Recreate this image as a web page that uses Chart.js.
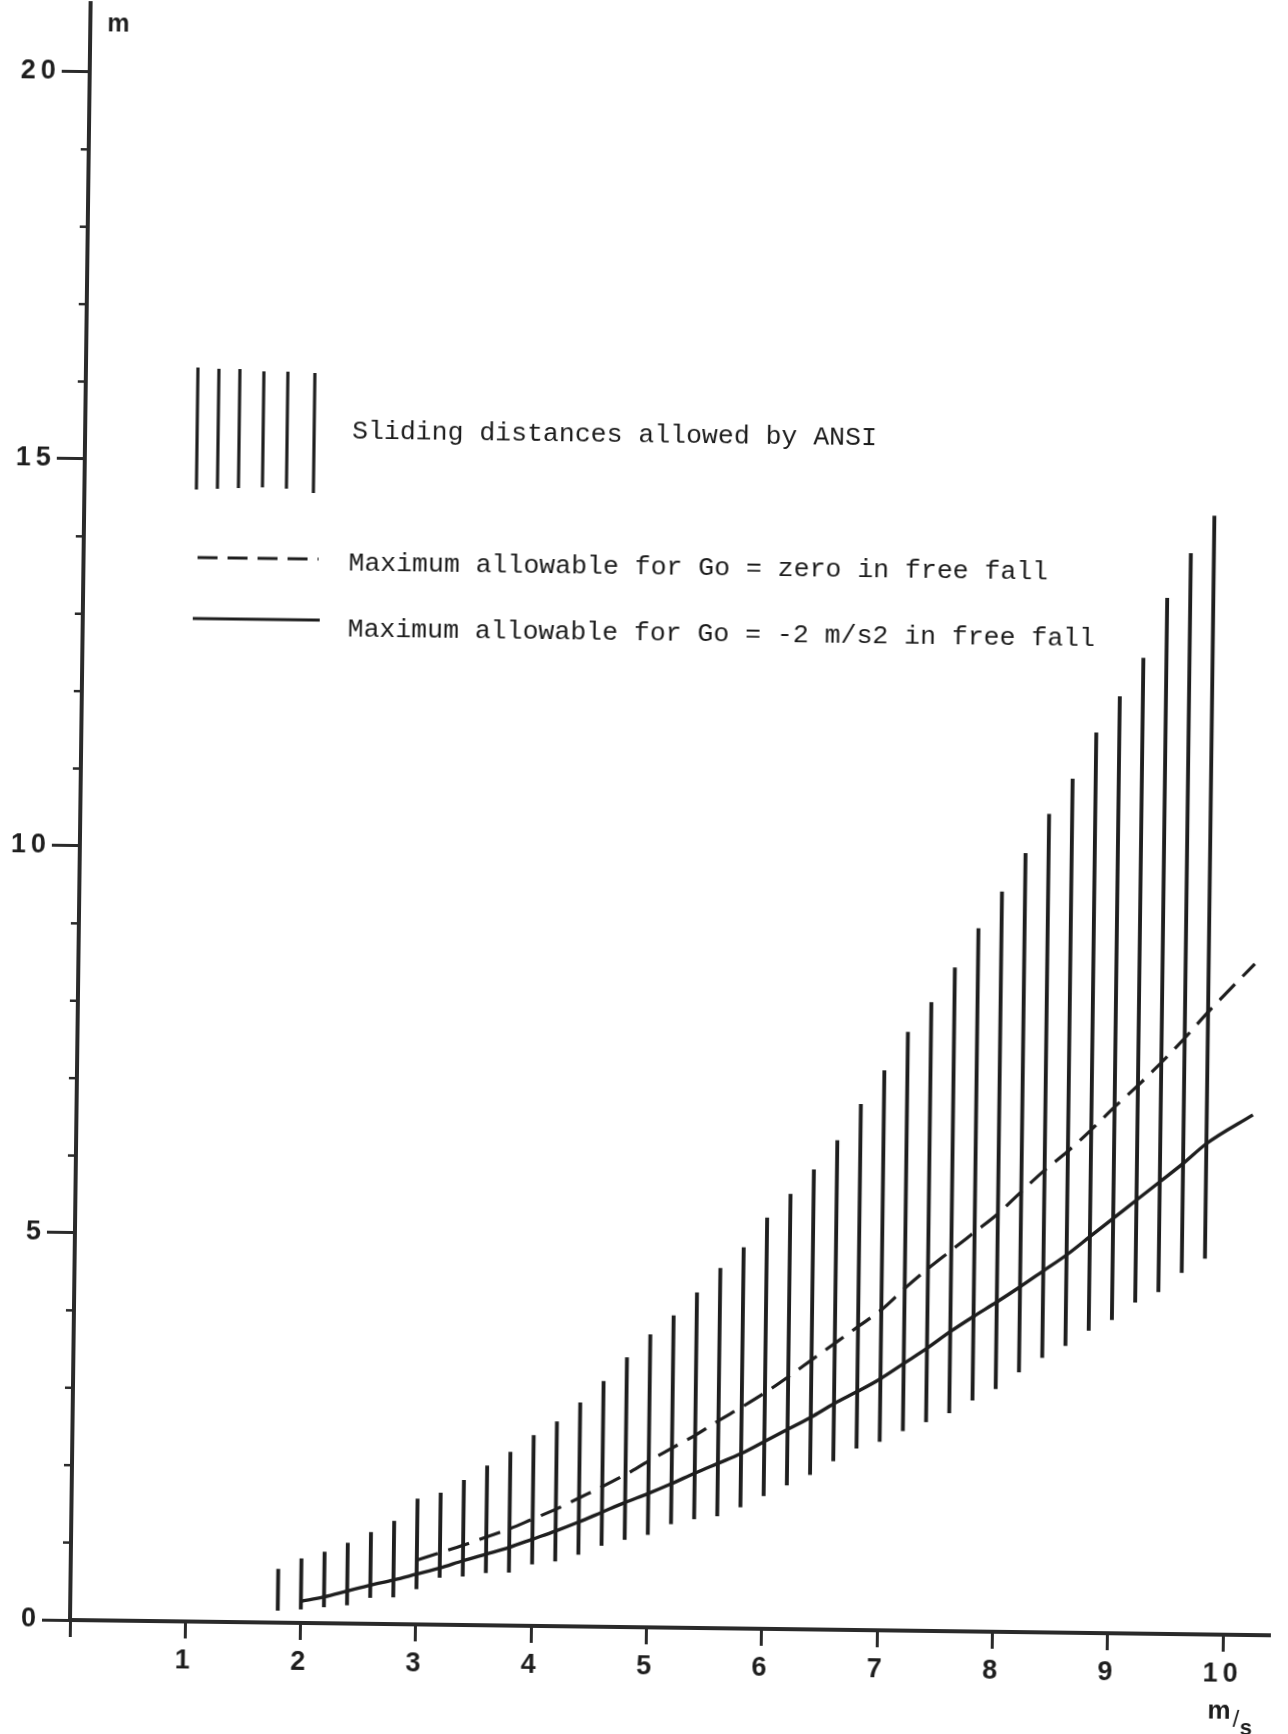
<!DOCTYPE html>
<html>
<head>
<meta charset="utf-8">
<title>Sliding distances</title>
<script src="https://cdn.jsdelivr.net/npm/chart.js@4.4.1/dist/chart.umd.min.js"></script>
<style>
  html, body { margin: 0; padding: 0; background: #ffffff; }
  #wrap { position: relative; width: 1288px; height: 1734px; overflow: hidden; background: #ffffff; }
  /* the sheet sits slightly askew on the page */
  #chart { position: absolute; left: 0; top: 0; transform: rotate(0.73deg); transform-origin: 70px 1620px; }
</style>
</head>
<body>
<div id="wrap"><canvas id="chart" width="1288" height="1734"></canvas></div>
<script>
// Car speed (m/s) at which each ANSI sliding-distance band is drawn
const speeds = [1.8, 2.0, 2.2, 2.4, 2.6, 2.8, 3.0, 3.2, 3.4, 3.6, 3.8, 4.0, 4.2, 4.4, 4.6, 4.8,
                5.0, 5.2, 5.4, 5.6, 5.8, 6.0, 6.2, 6.4, 6.6, 6.8, 7.0, 7.2, 7.4, 7.6, 7.8, 8.0,
                8.2, 8.4, 8.6, 8.8, 9.0, 9.2, 9.4, 9.6, 9.8];
// Lower and upper sliding distance allowed by ANSI (m)
const slideMin = [0.16, 0.18, 0.21, 0.24, 0.34, 0.35, 0.46, 0.61, 0.63, 0.68, 0.69, 0.80, 0.84, 0.93, 1.05, 1.13,
                  1.20, 1.34, 1.41, 1.45, 1.57, 1.72, 1.86, 2.00, 2.18, 2.35, 2.44, 2.58, 2.70, 2.82, 2.99, 3.14,
                  3.36, 3.55, 3.71, 3.91, 4.05, 4.28, 4.42, 4.67, 4.86];
const slideMax = [0.69, 0.83, 0.92, 1.04, 1.18, 1.33, 1.62, 1.70, 1.87, 2.06, 2.24, 2.46, 2.64, 2.89, 3.17, 3.48,
                  3.78, 4.03, 4.33, 4.65, 4.92, 5.31, 5.62, 5.94, 6.32, 6.79, 7.23, 7.73, 8.12, 8.57, 9.08, 9.56,
                  10.06, 10.57, 11.03, 11.63, 12.10, 12.60, 13.38, 13.96, 14.45];

// Maximum allowable sliding distance, Go = zero in free fall
const goZeroSpeeds = [3.0, 3.2, 3.4, 3.6, 3.8, 4.0, 4.2, 4.4, 4.6, 4.8, 5.0, 5.2, 5.4, 5.6, 5.8, 6.0, 6.2, 6.4,
                      6.6, 6.8, 7.0, 7.2, 7.4, 7.6, 7.8, 8.0, 8.2, 8.4, 8.6, 8.8, 9.0, 9.2, 9.4, 9.6, 9.8, 10.2];
const goZeroLimit = [0.83, 0.93, 1.03, 1.14, 1.25, 1.38, 1.51, 1.66, 1.81, 1.97, 2.15, 2.32, 2.49, 2.68, 2.86, 3.05, 3.26, 3.48,
                     3.70, 3.92, 4.14, 4.42, 4.68, 4.92, 5.16, 5.40, 5.69, 5.97, 6.22, 6.50, 6.80, 7.08, 7.38, 7.70, 8.04, 8.67];

// Maximum allowable sliding distance, Go = -2 m/s2 in free fall
const goMinus2Speeds = [2.0, 2.2, 2.4, 2.6, 2.8, 3.0, 3.2, 3.4, 3.6, 3.8, 4.0, 4.2, 4.4, 4.6, 4.8, 5.0, 5.2, 5.4, 5.6, 5.8,
                        6.0, 6.2, 6.4, 6.6, 6.8, 7.0, 7.2, 7.4, 7.6, 7.8, 8.0, 8.2, 8.4, 8.6, 8.8, 9.0, 9.2, 9.4, 9.6, 9.8, 10.2];
const goMinus2Limit = [0.28, 0.34, 0.42, 0.50, 0.57, 0.65, 0.73, 0.83, 0.92, 1.01, 1.12, 1.23, 1.35, 1.48, 1.61, 1.73, 1.86, 2.00, 2.13, 2.26,
                       2.42, 2.58, 2.74, 2.92, 3.08, 3.25, 3.45, 3.65, 3.87, 4.07, 4.26, 4.46, 4.67, 4.88, 5.12, 5.36, 5.60, 5.84, 6.08, 6.34, 6.72];

// Axis ticks and their printed labels
const xTickValues = [0, 1, 2, 3, 4, 5, 6, 7, 8, 9, 10];
const xTickLabels = ['', '1', '2', '3', '4', '5', '6', '7', '8', '9', '10'];
const yTickValues = [0, 1, 2, 3, 4, 5, 6, 7, 8, 9, 10, 11, 12, 13, 14, 15, 16, 17, 18, 19, 20];
const yLabelledValues = [0, 5, 10, 15, 20];

const legendLabels = [
  'Sliding distances allowed by ANSI',
  'Maximum allowable for Go = zero in free fall',
  'Maximum allowable for Go = -2 m/s2 in free fall'
];

const INK = '#1e1e1e';
const AXIS_INK = '#2a2a2a';
const TICK_FONT = { family: '"Liberation Sans", Arial, Helvetica, sans-serif', size: 27, weight: 'bold' };
const TYPE_FONT = '26.5px "Liberation Mono", "DejaVu Sans Mono", monospace';

const sheetNotes = {
  id: 'sheetNotes',
  beforeDraw(chart) { chart.ctx.letterSpacing = '5px'; },
  beforeDatasetsDraw(chart) { chart.ctx.letterSpacing = '0px'; },
  afterDraw(chart) {
    const ctx = chart.ctx;
    const ys = chart.scales.y;
    ctx.save();
    ctx.letterSpacing = '0px';
    ctx.strokeStyle = AXIS_INK;
    ctx.fillStyle = INK;

    // short unit marks along the distance axis
    ctx.lineWidth = 2.5;
    yTickValues.forEach(v => {
      if (yLabelledValues.includes(v)) return;
      const py = ys.getPixelForValue(v);
      ctx.beginPath();
      ctx.moveTo(ys.right - 8, py);
      ctx.lineTo(ys.right, py);
      ctx.stroke();
    });

    // axis units
    ctx.textAlign = 'center';
    ctx.textBaseline = 'middle';
    ctx.font = 'bold 25px "Liberation Sans", Arial, sans-serif';
    ctx.fillText('m', 98, 24);
    ctx.font = 'bold 26px "Liberation Sans", Arial, sans-serif';
    ctx.fillText('m', 1220, 1697);
    ctx.font = '24px "Liberation Sans", Arial, sans-serif';
    ctx.fillText('/', 1237, 1705);
    ctx.font = 'bold 22px "Liberation Sans", Arial, sans-serif';
    ctx.fillText('s', 1247, 1714);

    // key
    ctx.strokeStyle = INK;
    ctx.lineWidth = 3.2;
    const keyBars = [[182, 366, 488], [203, 367, 487], [224, 367, 486], [248, 369, 485], [272, 369, 486], [299, 370, 490]];
    keyBars.forEach(([bx, top, bottom]) => {
      ctx.beginPath();
      ctx.moveTo(bx, top);
      ctx.lineTo(bx, bottom);
      ctx.stroke();
    });
    ctx.lineWidth = 3;
    ctx.setLineDash([20, 10]);
    ctx.beginPath();
    ctx.moveTo(184, 556);
    ctx.lineTo(305, 556);
    ctx.stroke();
    ctx.setLineDash([]);
    ctx.beginPath();
    ctx.moveTo(180, 617);
    ctx.lineTo(307, 617);
    ctx.stroke();

    ctx.font = TYPE_FONT;
    ctx.fillStyle = '#1c1c1c';
    ctx.textAlign = 'left';
    ctx.textBaseline = 'alphabetic';
    ctx.fillText(legendLabels[0], 337, 435);
    ctx.fillText(legendLabels[1], 335, 567);
    ctx.fillText(legendLabels[2], 335, 633);
    ctx.restore();
  }
};

new Chart(document.getElementById('chart'), {
  type: 'bar',
  data: {
    datasets: [
      {
        type: 'bar',
        label: legendLabels[0],
        data: speeds.map((s, i) => ({ x: s, y: [slideMin[i], slideMax[i]] })),
        backgroundColor: INK,
        borderWidth: 0,
        barThickness: 3.2,
        grouped: false,
        order: 2
      },
      {
        type: 'line',
        label: legendLabels[1],
        data: goZeroSpeeds.map((s, i) => ({ x: s, y: goZeroLimit[i] })),
        borderColor: INK,
        borderWidth: 3.2,
        borderDash: [22, 11],
        pointRadius: 0,
        fill: false,
        cubicInterpolationMode: 'monotone',
        order: 1
      },
      {
        type: 'line',
        label: legendLabels[2],
        data: goMinus2Speeds.map((s, i) => ({ x: s, y: goMinus2Limit[i] })),
        borderColor: INK,
        borderWidth: 3.4,
        pointRadius: 0,
        fill: false,
        cubicInterpolationMode: 'monotone',
        order: 0
      }
    ]
  },
  options: {
    responsive: false,
    animation: false,
    devicePixelRatio: 1,
    layout: { padding: { top: 3, right: 17.4, bottom: 0, left: 0 } },
    plugins: { legend: { display: false }, tooltip: { enabled: false } },
    scales: {
      x: {
        type: 'linear',
        position: 'bottom',
        offset: false,
        min: 0,
        max: 10.41,
        afterBuildTicks(scale) { scale.ticks = xTickValues.map(v => ({ value: v })); },
        afterFit(scale) { scale.height = 114; scale.paddingLeft = 0; scale.paddingRight = 0; },
        ticks: {
          autoSkip: false,
          maxRotation: 0,
          padding: 6,
          color: INK,
          font: TICK_FONT,
          callback(value) { const i = xTickValues.indexOf(value); return i >= 0 ? xTickLabels[i] : ''; }
        },
        grid: { offset: false, drawOnChartArea: false, drawTicks: true, tickLength: 17, tickWidth: 3, tickColor: AXIS_INK },
        border: { display: true, width: 4, color: AXIS_INK }
      },
      y: {
        type: 'linear',
        position: 'left',
        min: 0,
        max: 20.89,
        afterBuildTicks(scale) { scale.ticks = yTickValues.map(v => ({ value: v })); },
        afterFit(scale) { scale.width = 70; scale.paddingTop = 0; scale.paddingBottom = 0; },
        ticks: {
          autoSkip: false,
          padding: 1,
          color: INK,
          font: TICK_FONT,
          callback(value) { return yLabelledValues.includes(value) ? String(value) : ''; }
        },
        grid: {
          drawOnChartArea: false,
          drawTicks: true,
          tickLength: 28,
          tickWidth: 3,
          tickColor: (c) => (c.tick && yLabelledValues.includes(c.tick.value)) ? AXIS_INK : 'rgba(0,0,0,0)'
        },
        border: { display: true, width: 4, color: AXIS_INK }
      }
    }
  },
  plugins: [sheetNotes]
});
</script>
</body>
</html>
